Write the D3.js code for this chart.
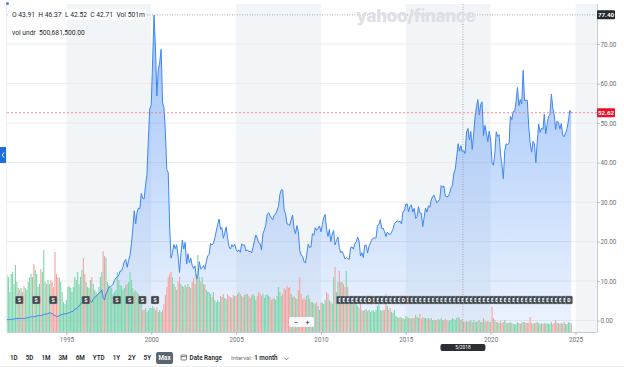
<!DOCTYPE html>
<html>
<head>
<meta charset="utf-8">
<script src="https://cdn.jsdelivr.net/npm/d3@7"></script>
<style>
html, body { margin: 0; padding: 0; background: #fff; }
svg { display: block; font-family: Roboto, "Noto Sans", Arial, sans-serif; }
</style>
</head>
<body>
<svg id="chart" width="624" height="367"></svg>
<script>
// CSCO monthly, split adjusted. First point is Jul 1991, last is Oct 2024
var firstMonth = new Date(1991, 6, 1);

var closes = [
  0.22, 0.25, 0.27, 0.30, 0.36, 0.42,
  0.50, 0.55, 0.52, 0.55, 0.58, 0.55, 0.52, 0.58, 0.68, 0.78, 0.88, 0.95,
  1.00, 0.98, 1.05, 1.15, 1.25, 1.35, 1.25, 1.40, 1.55, 1.70, 1.60, 1.80,
  1.95, 1.90, 1.80, 1.45, 1.25, 1.10, 1.00, 1.30, 1.40, 1.55, 1.65, 1.70,
  1.80, 1.85, 2.00, 2.20, 2.25, 2.45, 2.90, 3.00, 3.30, 3.70, 4.20, 4.60,
  4.50, 4.40, 4.40, 4.80, 5.00, 5.00, 4.60, 5.50, 5.90, 6.10, 6.60, 6.90,
  7.20, 7.80, 5.90, 5.20, 6.80, 7.50, 8.40, 8.50, 8.90, 9.20, 10.20, 10.80,
  11.00, 11.50, 12.50, 12.60, 13.50, 15.00, 15.50, 13.50, 15.20, 16.50, 19.50, 23.20,
  27.80, 24.50, 27.40, 28.50, 28.30, 32.20, 31.00, 30.80, 34.30, 37.00, 46.20, 53.60,
  54.60, 66.20, 77.31, 69.30, 56.90, 63.60, 65.40, 68.70, 55.25, 53.90, 47.90, 38.25,
  37.45, 23.70, 15.80, 16.98, 19.26, 18.20, 19.22, 16.33, 12.18, 16.92, 20.40, 18.11,
  19.80, 14.30, 16.93, 14.65, 15.79, 13.95, 13.19, 13.82, 10.48, 11.18, 14.92, 13.10,
  13.37, 13.98, 12.98, 15.04, 16.37, 16.79, 19.52, 19.15, 19.59, 20.98, 22.66, 24.23,
  25.71, 23.11, 23.57, 20.87, 22.16, 23.70, 20.86, 18.76, 18.10, 19.21, 18.71, 19.32,
  18.04, 17.41, 17.89, 17.28, 19.38, 19.10, 19.15, 17.62, 17.92, 17.45, 17.54, 17.12,
  18.57, 20.24, 21.67, 20.95, 19.69, 19.53, 17.85, 21.99, 22.98, 24.13, 26.88, 27.33,
  26.59, 25.93, 25.53, 26.74, 26.92, 27.85, 28.91, 31.92, 33.13, 33.04, 28.02, 27.07,
  24.50, 24.37, 24.09, 25.63, 26.71, 23.26, 21.99, 24.05, 22.56, 17.77, 16.54, 16.30,
  14.97, 14.57, 16.77, 19.32, 18.50, 18.65, 22.01, 21.60, 23.54, 22.85, 23.40, 23.94,
  22.47, 24.33, 26.03, 26.92, 23.16, 21.31, 23.07, 19.97, 21.90, 22.83, 19.16, 20.23,
  21.15, 18.56, 17.15, 17.56, 16.80, 15.61, 15.97, 15.68, 15.50, 18.53, 18.64, 18.08,
  19.59, 19.88, 21.15, 20.15, 16.33, 17.17, 15.95, 19.08, 19.10, 17.14, 18.91, 19.65,
  20.57, 20.85, 20.90, 20.92, 24.08, 24.31, 25.55, 23.31, 23.43, 22.50, 21.25, 22.43,
  21.91, 21.80, 22.41, 23.11, 24.62, 24.85, 25.23, 24.99, 25.17, 24.47, 27.64, 27.82,
  29.48, 29.52, 27.52, 28.83, 29.31, 27.46, 28.42, 25.88, 26.25, 28.85, 27.25, 27.16,
  23.79, 26.18, 28.47, 27.48, 29.05, 28.69, 30.53, 31.44, 31.72, 30.68, 29.82, 30.22,
  30.72, 34.18, 33.80, 34.07, 31.53, 31.30, 31.45, 32.21, 33.63, 34.15, 37.30, 38.30,
  41.54, 44.78, 42.89, 44.29, 42.71, 43.03, 42.29, 47.77, 48.65, 45.75, 47.87, 43.33,
  47.29, 51.77, 53.99, 55.95, 52.03, 54.73, 55.40, 46.81, 49.41, 47.51, 45.31, 47.96,
  45.97, 39.93, 39.31, 42.38, 47.81, 46.64, 47.10, 42.22, 39.39, 35.90, 43.02, 44.75,
  44.58, 44.87, 51.71, 50.91, 52.90, 53.00, 55.37, 59.02, 54.43, 55.97, 54.84, 63.37,
  55.71, 55.77, 55.76, 48.98, 45.05, 42.64, 45.37, 44.72, 40.00, 45.46, 49.73, 47.64,
  48.67, 48.42, 52.27, 47.25, 49.67, 51.74, 52.04, 57.35, 53.76, 52.13, 48.38, 50.52,
  50.18, 48.44, 49.91, 46.98, 46.49, 47.51, 48.45, 50.54, 53.22, 52.62
];

// monthly volume, millions of shares
var volumes = [
  2280, 2200, 1600, 2320, 2400, 1920,
  2680, 2000, 1760, 1680, 1760, 1600, 1840, 1760, 1680, 2000, 2200, 2320,
  2200, 2720, 2480, 2320, 1800, 1920, 2520, 2400, 3280, 2000, 1920, 2080,
  1920, 2080, 2000, 1800, 3200, 2320, 2200, 2160, 2000, 1600, 1200, 1120,
  1280, 1800, 1840, 1760, 1600, 1800, 2200, 2080, 2400, 1920, 2200, 2480,
  2960, 2320, 2000, 1800, 1760, 2080, 2200, 1920, 1680, 1600, 1520, 1800,
  2200, 2400, 3240, 3040, 2960, 2000, 1880, 1840, 1760, 1520, 1600, 1680,
  2400, 2080, 1880, 1840, 1680, 1760, 1880, 1920, 2000, 2400, 2080, 1760,
  1600, 1680, 1600, 1520, 1440, 1120, 880, 880, 960, 800, 880, 960,
  960, 1040, 960, 880, 1000, 800, 880, 800, 880, 1120, 1480, 1800,
  2200, 2320, 2400, 2200, 1920, 1800, 1680, 2000, 2200, 1920, 1840, 1800,
  1880, 1800, 1920, 1800, 1760, 2000, 2160, 1920, 2320, 3080, 2200, 2000,
  2200, 1920, 1880, 1680, 1600, 1600, 1520, 1400, 1600, 1280, 1200, 1280,
  1200, 1440, 1400, 1520, 1360, 1320, 1520, 1440, 1400, 1360, 1480, 1440,
  1440, 1520, 1600, 1520, 1440, 1400, 1480, 1520, 1520, 1440, 1360, 1480,
  1520, 1440, 1280, 1440, 1600, 1520, 1440, 1520, 1360, 1480, 1520, 1440,
  1400, 1280, 1320, 1360, 1280, 1440, 1800, 1600, 1440, 1520, 1760, 1680,
  1840, 1760, 1800, 1520, 1400, 1440, 1360, 1320, 1680, 2200, 1520, 1280,
  1360, 1280, 1440, 1480, 1320, 1200, 1200, 1160, 1120, 1200, 1040, 880,
  1200, 1160, 1120, 1280, 1600, 1520, 1280, 1200, 1120, 2200, 2600, 1600,
  2000, 2440, 2000, 2000, 1920, 1800, 2440, 1800, 1280, 1200, 1200, 1120,
  1200, 1120, 1040, 960, 1200, 880, 840, 880, 920, 840, 880, 800,
  840, 880, 800, 880, 1040, 1120, 880, 840, 880, 880, 1520, 1040,
  880, 960, 800, 760, 880, 640, 600, 560, 600, 560, 560, 520,
  640, 600, 560, 560, 520, 560, 560, 680, 600, 560, 720, 520,
  600, 560, 560, 520, 560, 520, 560, 480, 480, 480, 480, 520,
  480, 560, 480, 480, 520, 480, 440, 480, 480, 560, 520, 480,
  560, 600, 560, 480, 501, 400, 400, 440, 400, 440, 480, 400,
  480, 400, 400, 440, 480, 400, 400, 560, 440, 400, 440, 400,
  400, 1000, 560, 480, 400, 400, 360, 440, 360, 400, 480, 360,
  360, 360, 400, 360, 320, 320, 320, 400, 360, 320, 360, 400,
  400, 360, 360, 360, 600, 360, 320, 360, 360, 400, 360, 320,
  360, 320, 360, 320, 360, 320, 320, 400, 320, 360, 480, 360,
  360, 320, 360, 320, 400, 320, 320, 400, 360, 360
];

var splitMonths = ['1991-03', '1992-03', '1993-03', '1994-03', '1996-02', '1997-12', '1998-09', '1999-06', '2000-03'];
var earningsMonths = [
  '2011-02', '2011-05', '2011-08', '2011-11', '2012-02', '2012-05', '2012-08', '2012-11',
  '2013-02', '2013-05', '2013-08', '2013-11', '2014-02', '2014-05', '2014-08', '2014-11',
  '2015-02', '2015-05', '2015-08', '2015-11', '2016-02', '2016-05', '2016-08', '2016-11',
  '2017-02', '2017-05', '2017-08', '2017-11', '2018-02', '2018-05', '2018-08', '2018-11',
  '2019-02', '2019-05', '2019-08', '2019-11', '2020-02', '2020-05', '2020-08', '2020-11',
  '2021-02', '2021-05', '2021-08', '2021-11', '2022-02', '2022-05', '2022-08', '2022-11',
  '2023-02', '2023-05', '2023-08', '2023-11', '2024-02', '2024-05', '2024-08'
];
var dividendMonths = ['2012-11', '2014-11', '2024-08'];

var priceTicks = [0, 10, 20, 30, 40, 50, 60, 70];
var yearTicks = [1995, 2000, 2005, 2010, 2015, 2020, 2025];
var lastPrice = 52.62;
var cursorPrice = 77.40;
var cursorMonth = '2018-05';
var ranges = ['1D', '5D', '1M', '3M', '6M', 'YTD', '1Y', '2Y', '5Y', 'Max'];

var L = 7, R = 597, T = 4, B = 332;
var parseMonth = d3.timeParse('%Y-%m');

var x = d3.scaleTime()
    .domain([new Date(1995, 0, 1), new Date(2025, 0, 1)])
    .range([66.4, 575.5]);
var y = d3.scaleLinear().domain([0, 80]).range([320.6, 4.6]);
var vy = d3.scaleLinear().domain([0, 4160]).range([B, B - 104]);

var months = closes.map(function(c, i) { return d3.timeMonth.offset(firstMonth, i); });

var svg = d3.select('#chart');
var defs = svg.append('defs');
defs.append('clipPath').attr('id', 'plotClip')
  .append('rect').attr('x', L).attr('y', T).attr('width', R - L).attr('height', B - T);
var grad = defs.append('linearGradient').attr('id', 'areaFill')
    .attr('gradientUnits', 'userSpaceOnUse')
    .attr('x1', 0).attr('y1', T).attr('x2', 0).attr('y2', B);
grad.append('stop').attr('offset', 0).attr('stop-color', '#4a8df5').attr('stop-opacity', 0.55);
grad.append('stop').attr('offset', 1).attr('stop-color', '#4a8df5').attr('stop-opacity', 0.1);

var plot = svg.append('g').attr('clip-path', 'url(#plotClip)');

// alternating 5 year bands
var bands = [];
for (var k = 0; k < yearTicks.length; k += 2)
  bands.push([yearTicks[k], yearTicks[k] + 5]);
plot.selectAll('rect.band').data(bands).enter().append('rect')
    .attr('class', 'band')
    .attr('x', function(d) { return x(new Date(d[0], 0, 1)); })
    .attr('width', function(d) { return x(new Date(d[1], 0, 1)) - x(new Date(d[0], 0, 1)); })
    .attr('y', T).attr('height', B - T)
    .attr('fill', '#f2f5f8');

plot.selectAll('line.grid').data(priceTicks).enter().append('line')
    .attr('x1', L).attr('x2', R)
    .attr('y1', function(d) { return y(d); }).attr('y2', function(d) { return y(d); })
    .attr('stroke', '#e3e6ea').attr('stroke-width', 0.8);

var area = d3.area()
    .x(function(d, i) { return x(months[i]); })
    .y0(B)
    .y1(function(d) { return y(d); });
plot.append('path').datum(closes).attr('d', area).attr('fill', 'url(#areaFill)');

// volume bars, coloured by month over month change
plot.selectAll('rect.vol').data(volumes).enter().append('rect')
    .attr('x', function(d, i) { return x(months[i]) - 0.55; })
    .attr('width', 1.1)
    .attr('y', function(d) { return vy(d); })
    .attr('height', function(d) { return B - vy(d); })
    .attr('fill', function(d, i) {
      return (i === 0 || closes[i] >= closes[i - 1]) ? '#7cd6ab' : '#f4a49f';
    });

var line = d3.line()
    .x(function(d, i) { return x(months[i]); })
    .y(function(d) { return y(d); });
plot.append('path').datum(closes).attr('d', line)
    .attr('fill', 'none').attr('stroke', '#3f86f3').attr('stroke-width', 1);

// last price line
plot.append('line').attr('x1', L).attr('x2', R)
    .attr('y1', y(lastPrice)).attr('y2', y(lastPrice))
    .attr('stroke', '#ef6f7a').attr('stroke-width', 0.8).attr('stroke-dasharray', '2,2');

// crosshair
var cx = x(d3.timeDay.offset(parseMonth(cursorMonth), 14));
plot.append('line').attr('x1', cx).attr('x2', cx).attr('y1', T).attr('y2', B)
    .attr('stroke', '#8a8f95').attr('stroke-width', 0.7).attr('stroke-dasharray', '1,1.5');
plot.append('line').attr('x1', L).attr('x2', R).attr('y1', y(cursorPrice)).attr('y2', y(cursorPrice))
    .attr('stroke', '#8a8f95').attr('stroke-width', 0.7).attr('stroke-dasharray', '1,1.5');

// event markers
function marker(g, d, letter, w) {
  var mx = x(parseMonth(d));
  g.append('rect').attr('x', mx - 3).attr('y', 296).attr('width', w).attr('height', 8)
      .attr('rx', 1).attr('fill', '#43484d').attr('stroke', '#b8bcc1').attr('stroke-width', 0.4);
  g.append('text').attr('x', mx - 3 + w / 2).attr('y', 302.2)
      .attr('text-anchor', 'middle').attr('font-size', 5.2).attr('font-weight', 700)
      .attr('fill', '#fff').text(letter);
}
var ev = plot.append('g');
splitMonths.forEach(function(d) { marker(ev, d, 'S', 8); });
earningsMonths.forEach(function(d) { marker(ev, d, 'E', 7); });
dividendMonths.forEach(function(d) { marker(ev, d, 'D', 7); });

// zoom buttons
var zb = svg.append('g');
zb.append('rect').attr('x', 289).attr('y', 317).attr('width', 25).attr('height', 10)
    .attr('rx', 2).attr('fill', '#fff').attr('opacity', 0.92);
zb.append('text').attr('x', 296).attr('y', 325).attr('text-anchor', 'middle')
    .attr('font-size', 8).attr('fill', '#333').text('\u2212');
zb.append('text').attr('x', 307.5).attr('y', 325).attr('text-anchor', 'middle')
    .attr('font-size', 8).attr('fill', '#333').text('+');

// axes
svg.append('line').attr('x1', R + 0.5).attr('x2', R + 0.5).attr('y1', T).attr('y2', B)
    .attr('stroke', '#c9ccd0').attr('stroke-width', 1);
svg.append('line').attr('x1', L).attr('x2', R).attr('y1', B + 0.5).attr('y2', B + 0.5)
    .attr('stroke', '#c9ccd0').attr('stroke-width', 1);
svg.append('line').attr('x1', L - 0.5).attr('x2', L - 0.5).attr('y1', T).attr('y2', B)
    .attr('stroke', '#eceef0').attr('stroke-width', 1);

var yAxis = svg.append('g').attr('transform', 'translate(' + (R + 0.5) + ',0)')
    .call(d3.axisRight(y).tickValues(priceTicks).tickSize(2).tickFormat(d3.format('.2f')));
yAxis.select('.domain').remove();
yAxis.selectAll('line').attr('stroke', '#aaa');
yAxis.selectAll('text').attr('font-size', 6.3).attr('fill', '#6b7178')
    .attr('font-family', 'Roboto, sans-serif').attr('x', 3);

var xAxis = svg.append('g').attr('transform', 'translate(0,' + (B + 0.5) + ')')
    .call(d3.axisBottom(x).tickValues(yearTicks.map(function(t) { return new Date(t, 0, 1); }))
      .tickSize(2).tickFormat(d3.timeFormat('%Y')));
xAxis.select('.domain').remove();
xAxis.selectAll('line').attr('stroke', '#aaa');
xAxis.selectAll('text').attr('font-size', 6.3).attr('fill', '#6b7178')
    .attr('font-family', 'Roboto, sans-serif').attr('y', 5);

// price flags on axis
function flag(v, fill) {
  svg.append('rect').attr('x', R).attr('y', y(v) - 4.5).attr('width', 18).attr('height', 9)
      .attr('rx', 1).attr('fill', fill);
  svg.append('text').attr('x', R + 9).attr('y', y(v) + 2.3).attr('text-anchor', 'middle')
      .attr('font-size', 6.2).attr('font-weight', 700).attr('fill', '#fff')
      .text(d3.format('.2f')(v));
}
flag(cursorPrice, '#232a31');
flag(lastPrice, '#eb0f29');

// date flag below the crosshair
svg.append('rect').attr('x', cx - 22.5).attr('y', 344).attr('width', 45).attr('height', 7)
    .attr('rx', 2).attr('fill', '#2b3036');
svg.append('text').attr('x', cx).attr('y', 349.3).attr('text-anchor', 'middle')
    .attr('font-size', 4.8).attr('fill', '#fff')
    .text(d3.timeFormat('%-m/%Y')(parseMonth(cursorMonth)));

// header readout
var cm = d3.timeMonth.count(firstMonth, parseMonth(cursorMonth));
svg.append('rect').attr('x', 8).attr('y', 9).attr('width', 138).attr('height', 11).attr('fill', '#fff');
svg.append('text').attr('x', 12).attr('y', 16.5).attr('font-size', 6.7).attr('fill', '#232a31')
    .attr('xml:space', 'preserve')
    .text('O 43.91  H 46.37  L 42.52  C ' + d3.format('.2f')(closes[cm]) + '  Vol ' + volumes[cm] + 'm');
svg.append('text').attr('x', 12).attr('y', 35).attr('font-size', 6.7).attr('fill', '#232a31')
    .attr('xml:space', 'preserve').text('vol undr  500,681,500.00');
svg.append('circle').attr('cx', 7.5).attr('cy', 3.5).attr('r', 1.5).attr('fill', '#3f86f3');

// watermark
svg.append('text').attr('x', 416).attr('y', 22).attr('text-anchor', 'middle')
    .attr('font-size', 17).attr('font-weight', 800).attr('fill', '#dde0e4')
    .attr('font-family', 'Inter, "Noto Sans", sans-serif').attr('letter-spacing', -0.3)
    .text('yahoo/finance');

// side tab
svg.append('rect').attr('x', 0).attr('y', 147).attr('width', 6).attr('height', 16).attr('fill', '#1d6fe0');
svg.append('path').attr('d', 'M4,152.5 L2.2,155 L4,157.5').attr('fill', 'none')
    .attr('stroke', '#fff').attr('stroke-width', 0.9);

// range buttons, laid out by measured text width
var bx = 10;
var rb = svg.append('g').attr('font-size', 6.3).attr('font-weight', 600).attr('fill', '#232a31');
ranges.forEach(function(r) {
  if (r === 'Max') {
    rb.append('rect').attr('x', bx - 3).attr('y', 352).attr('width', 17).attr('height', 12)
        .attr('rx', 2).attr('fill', '#5b6570');
    rb.append('text').attr('x', bx + 5.5).attr('y', 360.3).attr('text-anchor', 'middle')
        .attr('fill', '#fff').text(r);
    bx += 22;
  } else {
    var t = rb.append('text').attr('x', bx).attr('y', 360.3).text(r);
    bx += t.node().getComputedTextLength() + 8;
  }
});
// calendar icon
rb.append('rect').attr('x', bx).attr('y', 355).attr('width', 5.5).attr('height', 5)
    .attr('fill', 'none').attr('stroke', '#232a31').attr('stroke-width', 0.6).attr('rx', 0.6);
rb.append('line').attr('x1', bx).attr('x2', bx + 5.5).attr('y1', 356.6).attr('y2', 356.6)
    .attr('stroke', '#232a31').attr('stroke-width', 0.6);
var dr = rb.append('text').attr('x', bx + 8.5).attr('y', 360.3).text('Date Range');
var ix = bx + 8.5 + dr.node().getComputedTextLength() + 9;
var it = rb.append('text').attr('x', ix).attr('y', 360.3).attr('font-weight', 400).attr('fill', '#6b7178')
    .attr('font-size', 6).text('Interval:');
ix += it.node().getComputedTextLength() + 2;
var mt = rb.append('text').attr('x', ix).attr('y', 360.3).text('1 month');
ix += mt.node().getComputedTextLength() + 7;
rb.append('path').attr('d', 'M' + ix + ',357.8 l2,2 l2,-2').attr('fill', 'none')
    .attr('stroke', '#464e56').attr('stroke-width', 0.7);

svg.append('line').attr('x1', 0).attr('x2', 624).attr('y1', 366.5).attr('y2', 366.5)
    .attr('stroke', '#eceef0');
</script>
</body>
</html>
